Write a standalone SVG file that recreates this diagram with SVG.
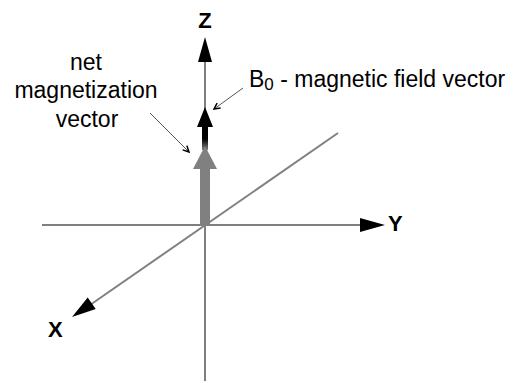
<svg xmlns="http://www.w3.org/2000/svg" width="517" height="383" viewBox="0 0 517 383">
<style>
.axis{stroke:#808080;stroke-width:2;fill:none}
.lead{stroke:#555;stroke-width:1;fill:none}
.lbl{font-family:"Liberation Sans",Arial,sans-serif;font-size:23px;fill:#000}
.ax{font-family:"Liberation Sans",Arial,sans-serif;font-size:22px;font-weight:bold;fill:#000}
</style>
<defs>
<linearGradient id="fade" x1="0" y1="0" x2="0" y2="1">
<stop offset="0" stop-color="#000"/>
<stop offset="0.55" stop-color="#000"/>
<stop offset="1" stop-color="#808080"/>
</linearGradient>
<marker id="tick" markerWidth="8" markerHeight="8" refX="7" refY="4" orient="auto" markerUnits="userSpaceOnUse">
<path d="M1,1 L7,4 L1,7" fill="none" stroke="#000" stroke-width="1.5"/>
</marker>
</defs>
<g id="connectors">
<line class="axis" x1="42" y1="225" x2="362" y2="225"/>
<polygon points="385,225 360,218 360,232" fill="#000"/>
<line class="axis" x1="205" y1="381" x2="205" y2="60"/>
<polygon points="205,37 198,62 212,62" fill="#000"/>
<line class="axis" x1="338" y1="133" x2="90" y2="305"/>
<polygon points="72,317 95.7,309.1 87.7,297.6" fill="#000"/>
<line class="lead" x1="150" y1="113" x2="189" y2="152" marker-end="url(#tick)"/>
<line class="lead" x1="243" y1="88" x2="214" y2="109" marker-end="url(#tick)"/>
</g>
<g id="b0-vector">
<rect x="202" y="125" width="6" height="25" fill="url(#fade)"/>
<polygon points="205,107 197,127 213,127" fill="#000"/>
</g>
<g id="net-vector">
<polygon points="205,146 193,169 217,169" fill="#808080"/>
<rect x="200" y="168" width="10" height="57" fill="#808080"/>
</g>
<g id="labels">
<text class="ax" x="205" y="28" text-anchor="middle">Z</text>
<text class="ax" x="388" y="231">Y</text>
<text class="ax" x="48" y="337">X</text>
<text class="lbl" text-anchor="middle" x="86" y="70">net</text>
<text class="lbl" text-anchor="middle" x="86" y="98">magnetization</text>
<text class="lbl" text-anchor="middle" x="87" y="127">vector</text>
<text class="lbl" x="249" y="87" font-size="24.5">B<tspan font-size="17" dy="3">0</tspan><tspan dy="-3"> - magnetic field vector</tspan></text>
</g>
</svg>
